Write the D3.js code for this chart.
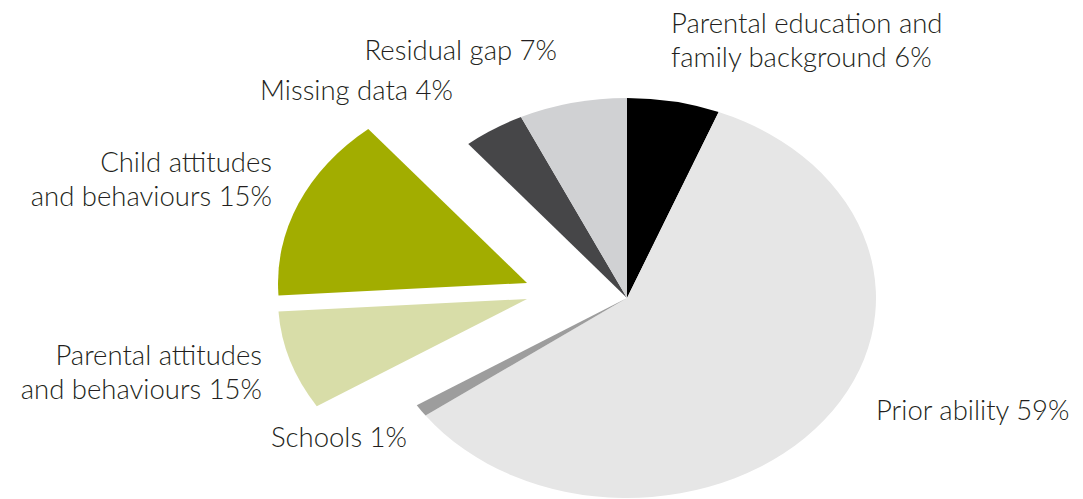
<!DOCTYPE html>
<html>
<head>
<meta charset="utf-8">
<script src="https://cdn.jsdelivr.net/npm/d3@7"></script>
<style>
  html, body { margin: 0; padding: 0; background: #fff; }
  svg text { font-family: Lato, "Open Sans", sans-serif; font-weight: 300; fill: #231f20; }
</style>
</head>
<body>
<div id="chart"></div>
<script>
// data, clockwise from 12 o'clock
var categories = ["Parental education and family background", "Prior ability", "Schools",
                  "Parental attitudes and behaviours", "Child attitudes and behaviours",
                  "Missing data", "Residual gap"];
var values = [6, 59, 1, 8, 15, 4, 7];           // share of the circle as drawn
var labelLines = [
  ["Parental education and", "family background 6%"],
  ["Prior ability 59%"],
  ["Schools 1%"],
  ["Parental attitudes", "and behaviours 15%"],
  ["Child attitudes", "and behaviours 15%"],
  ["Missing data 4%"],
  ["Residual gap 7%"]
];
var colors = ["#000000", "#e6e6e6", "#9d9d9d", "#d8dda8", "#a2ad00", "#464648", "#d0d1d3"];

// layout
var W = 1083, H = 499;
var cx = 627, cy = 298, ry = 200, sx = 1.245;    // pie is stretched horizontally
var explode = { 3: [-100, 1], 4: [-100, -15] };  // pulled-out slices
var labelPos = {
  0: { x: 671, y: 33, anchor: "start" },
  1: { x: 876, y: 420, anchor: "start" },
  2: { x: 271, y: 447, anchor: "start" },
  3: { x: 262, y: 365, anchor: "end" },
  4: { x: 272, y: 172, anchor: "end" },
  5: { x: 453, y: 100, anchor: "end" },
  6: { x: 557, y: 60, anchor: "end" }
};
var lineH = 34;

var svg = d3.select("#chart").append("svg")
    .attr("width", W)
    .attr("height", H);

var pie = d3.pie().sort(null).value(function(d) { return d; });
var arc = d3.arc().innerRadius(0).outerRadius(ry);

var slices = svg.append("g").selectAll("g")
    .data(pie(values)).enter()
    .append("g")
      .attr("transform", function(d, i) {
        var o = explode[i] || [0, 0];
        return "translate(" + [cx + o[0], cy + o[1]] + ") scale(" + sx + ",1)";
      });

slices.append("path")
    .attr("d", arc)
    .attr("fill", function(d, i) { return colors[i]; });

var labels = svg.append("g").selectAll("text")
    .data(labelLines).enter()
    .append("text")
      .attr("x", function(d, i) { return labelPos[i].x; })
      .attr("y", function(d, i) { return labelPos[i].y; })
      .attr("text-anchor", function(d, i) { return labelPos[i].anchor; })
      .style("font-size", "27.5px");

labels.selectAll("tspan")
    .data(function(d, i) { return d.map(function(t) { return { t: t, i: i }; }); }).enter()
    .append("tspan")
      .attr("x", function(d) { return labelPos[d.i].x; })
      .attr("dy", function(d, j) { return j ? lineH : 0; })
      .text(function(d) { return d.t; });
</script>
</body>
</html>
